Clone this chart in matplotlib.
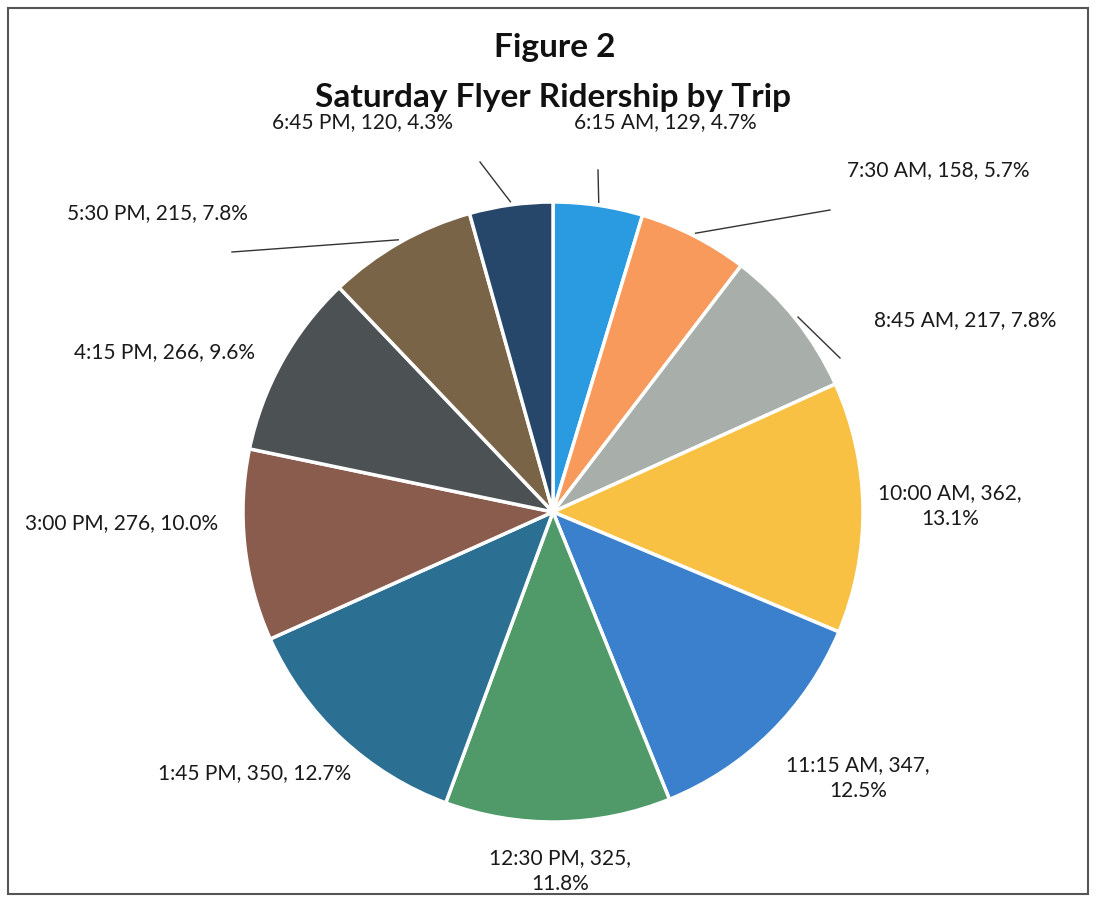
import numpy as np
import matplotlib.pyplot as plt
from matplotlib.patches import Rectangle

# trip times and riders
trips = ['6:15 AM', '7:30 AM', '8:45 AM', '10:00 AM', '11:15 AM', '12:30 PM',
         '1:45 PM', '3:00 PM', '4:15 PM', '5:30 PM', '6:45 PM']
riders = [129, 158, 217, 362, 347, 325, 350, 276, 266, 215, 120]
colors = ['#2a9be0', '#f79a5c', '#a8aeaa', '#f9c143', '#3a80cc', '#4f9a68',
          '#2b6f93', '#8a5c4e', '#4c5253', '#7a6448', '#27476a']

# label layout: text centre in pixels (from top-left), line break after value?
label_px = [(665, 122), (938, 170), (965, 320), (950, 506), (858, 778), (560, 871),
            (255, 773), (122, 523), (165, 352), (157, 213), (362, 122)]
wrap = [False, False, False, True, True, True, False, False, False, False, False]
# leader line end points (pixels), None = no leader
leader_px = [(598, 170), (830, 210), (840, 358), None, None, None,
             None, None, None, (232, 252), (480, 162)]

W, H = 1096, 902
plt.rcParams['font.family'] = ['Lato', 'DejaVu Sans']

fig = plt.figure(figsize=(W / 100, H / 100), dpi=100)
fig.patches.append(Rectangle((8 / W, 8 / H), 1 - 16 / W, 1 - 16 / H, transform=fig.transFigure,
                             fill=False, edgecolor='#555555', linewidth=1.5))

# pie axes: centre (553, 512), radius 310 px
cx, cy, r = 553, 512, 310
ax = fig.add_axes([(cx - r) / W, (H - cy - r) / H, 2 * r / W, 2 * r / H])
wedges, _ = ax.pie(riders, colors=colors, startangle=90, counterclock=False,
                   wedgeprops=dict(edgecolor='white', linewidth=2.5))
ax.set_xlim(-1, 1)
ax.set_ylim(-1, 1)
ax.set_aspect('equal')
ax.axis('off')

total = sum(riders)
for i, w in enumerate(wedges):
    pct = riders[i] / total * 100
    sep = ',\n' if wrap[i] else ', '
    txt = f'{trips[i]}, {riders[i]}{sep}{pct:.1f}%'
    x, y = label_px[i]
    fig.text(x / W, 1 - y / H, txt, ha='center', va='center', fontsize=15,
             color='#1a1a1a', linespacing=1.35)
    if leader_px[i] is not None:
        ang = np.deg2rad((w.theta1 + w.theta2) / 2)
        x0 = cx + r * 1.01 * np.cos(ang)
        y0 = cy - r * 1.01 * np.sin(ang)
        x1, y1 = leader_px[i]
        fig.add_artist(plt.Line2D([x0 / W, x1 / W], [1 - y0 / H, 1 - y1 / H],
                                  transform=fig.transFigure, color='#333333', linewidth=1))

fig.text(555 / W, 1 - 48 / H, 'Figure 2', ha='center', va='center',
         fontsize=24, fontweight='bold', color='#111111')
fig.text(553 / W, 1 - 97 / H, 'Saturday Flyer Ridership by Trip', ha='center', va='center',
         fontsize=24, fontweight='bold', color='#111111')

fig.savefig('out.png', dpi=100)
